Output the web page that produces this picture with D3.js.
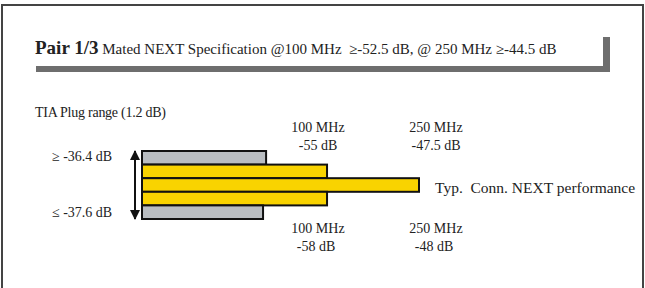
<!DOCTYPE html>
<html>
<head>
<meta charset="utf-8">
<script src="https://cdn.jsdelivr.net/npm/d3@7"></script>
<style>
  body { margin: 0; background: #fff; }
  text { font-family: "Liberation Serif", "Times New Roman", serif; fill: #222; white-space: pre; }
</style>
</head>
<body>
<div id="chart"></div>
<script>
// rows top to bottom, lengths as % of the longest bar
let rows = ["plugHigh", "conn100a", "conn250", "conn100b", "plugLow"];
let lengths = [44.8, 66.8, 100, 66.8, 43.7];
let kinds = ["plug", "conn", "conn", "conn", "plug"];
let plugLabels = ["\u2265 -36.4 dB", "\u2264 -37.6 dB"];
let topLabels = [["100 MHz", "-55 dB"], ["250 MHz", "-47.5 dB"]];
let bottomLabels = [["100 MHz", "-58 dB"], ["250 MHz", "-48 dB"]];

let svgWidth = 645, svgHeight = 288;
let svg = d3.select("#chart").append("svg")
    .attr("width", svgWidth)
    .attr("height", svgHeight);

svg.append("rect").attr("width", svgWidth).attr("height", svgHeight).attr("fill", "#fff");

// frame (no bottom edge visible)
svg.append("path")
    .attr("d", "M2,288 L2,5 L643,5 L643,288")
    .attr("fill", "none")
    .attr("stroke", "#444")
    .attr("stroke-width", 2);

// title banner shadow
svg.append("rect").attr("x", 36).attr("y", 66).attr("width", 574).attr("height", 6).attr("fill", "#6e6e6e");
svg.append("rect").attr("x", 603).attr("y", 37).attr("width", 7).attr("height", 35).attr("fill", "#6e6e6e");

let title = svg.append("text").attr("x", 35).attr("y", 54);
title.append("tspan").attr("font-weight", "bold").attr("font-size", 19).text("Pair 1/3");
title.append("tspan").attr("font-size", 15).text(" Mated NEXT Specification @100 MHz  \u2265-52.5 dB, @ 250 MHz \u2265-44.5 dB");

let xScale = d3.scaleLinear().domain([0, 100]).range([142, 419]);
let yScale = d3.scaleBand().domain(rows).range([151, 219]);

svg.selectAll("rect.bar")
    .data(rows)
    .enter()
    .append("rect")
    .attr("class", "bar")
    .attr("x", xScale(0))
    .attr("y", d => yScale(d))
    .attr("width", (d, i) => xScale(lengths[i]) - xScale(0))
    .attr("height", yScale.bandwidth())
    .attr("fill", (d, i) => kinds[i] == "plug" ? "#b9bdc1" : "#f9d300")
    .attr("stroke", "#111")
    .attr("stroke-width", 2);

// double arrow for plug range
let defs = svg.append("defs");
defs.append("marker")
    .attr("id", "head")
    .attr("viewBox", "0 0 10 10")
    .attr("refX", 9).attr("refY", 5)
    .attr("markerWidth", 5).attr("markerHeight", 6)
    .attr("orient", "auto-start-reverse")
    .append("path").attr("d", "M0,0 L10,5 L0,10 z").attr("fill", "#111");
svg.append("line")
    .attr("x1", 135).attr("x2", 135)
    .attr("y1", yScale(rows[0])).attr("y2", yScale(rows[4]) + yScale.bandwidth())
    .attr("stroke", "#111").attr("stroke-width", 2)
    .attr("marker-start", "url(#head)")
    .attr("marker-end", "url(#head)");

svg.append("text").attr("x", 35).attr("y", 117).attr("font-size", 14).attr("textLength", 131).text("TIA Plug range (1.2 dB)");
svg.append("text").attr("x", 52).attr("y", 161).attr("font-size", 14).text(plugLabels[0]);
svg.append("text").attr("x", 52).attr("y", 217).attr("font-size", 14).text(plugLabels[1]);

let labelX = [318, 436];
topLabels.forEach((l, i) => {
    svg.append("text").attr("x", labelX[i]).attr("y", 132).attr("font-size", 14).attr("text-anchor", "middle").text(l[0]);
    svg.append("text").attr("x", labelX[i]).attr("y", 150).attr("font-size", 14).attr("text-anchor", "middle").text(l[1]);
});
bottomLabels.forEach((l, i) => {
    svg.append("text").attr("x", labelX[i]).attr("y", 233).attr("font-size", 14).attr("text-anchor", "middle").text(l[0]);
    svg.append("text").attr("x", labelX[i] - 2).attr("y", 251).attr("font-size", 14).attr("text-anchor", "middle").text(l[1]);
});

svg.append("text").attr("x", 435).attr("y", 193).attr("font-size", 15.5).text("Typ.  Conn. NEXT performance");
</script>
</body>
</html>
